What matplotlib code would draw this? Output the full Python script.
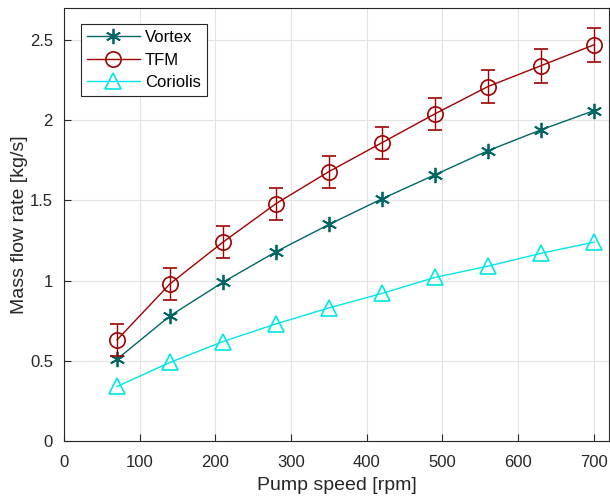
import matplotlib
matplotlib.use("Agg")
import matplotlib.pyplot as plt
from matplotlib.lines import Line2D

plt.rcParams['font.family'] = ['Liberation Sans', 'DejaVu Sans']

speed = [70, 140, 210, 280, 350, 420, 490, 560, 630, 700]
vortex = [0.51, 0.78, 0.99, 1.18, 1.35, 1.51, 1.66, 1.81, 1.94, 2.06]
tfm = [0.63, 0.98, 1.24, 1.48, 1.68, 1.86, 2.04, 2.21, 2.34, 2.47]
tfm_err = [0.10, 0.10, 0.10, 0.10, 0.10, 0.10, 0.10, 0.105, 0.105, 0.105]
coriolis = [0.34, 0.49, 0.62, 0.73, 0.83, 0.92, 1.02, 1.09, 1.17, 1.24]
series_labels = ['Vortex', 'TFM', 'Coriolis']

c_vortex = '#006666'
c_tfm = '#a00000'
c_cor = '#00e5e5'

fig = plt.figure(figsize=(6.10, 4.98), dpi=100)
ax = fig.add_axes([64/610, 57/498, 545/610, 433/498])

vortex_style = dict(color=c_vortex, marker=(6, 2, 0), markersize=11, markeredgewidth=1.3, lw=1)
tfm_style = dict(color=c_tfm, marker='o', markersize=11, markerfacecolor='none', markeredgewidth=1.2, lw=1)
cor_style = dict(color=c_cor, marker='^', markersize=11, markerfacecolor='none', markeredgewidth=1.2, lw=1)

ax.plot(speed, vortex, '-', **vortex_style)
ax.errorbar(speed, tfm, yerr=tfm_err, fmt='-', ecolor=c_tfm, elinewidth=1, capsize=5, **tfm_style)
ax.plot(speed, coriolis, '-', **cor_style)

ax.set_xlim(0, 720)
ax.set_ylim(0, 2.7)
ax.set_xticks(range(0, 701, 100))
ax.set_yticks([0, 0.5, 1, 1.5, 2, 2.5])
ax.set_yticklabels(['0', '0.5', '1', '1.5', '2', '2.5'])
ax.grid(True, color='#e3e3e3', lw=0.8)
ax.set_axisbelow(True)
ax.tick_params(direction='in', labelsize=12, colors='#262626', length=5, top=False, right=False)
ax.tick_params(axis='x', pad=10)
ax.tick_params(axis='y', pad=8)
for s in ax.spines.values():
    s.set_color('#262626')
    s.set_linewidth(0.8)
ax.set_xlabel('Pump speed [rpm]', fontsize=14, color='#262626', labelpad=5)
ax.set_ylabel('Mass flow rate [kg/s]', fontsize=14, color='#262626', labelpad=1)

handles = [Line2D([], [], **vortex_style), Line2D([], [], **tfm_style), Line2D([], [], **cor_style)]
leg = ax.legend(handles, series_labels, loc='upper left', bbox_to_anchor=(0.031, 0.962), fontsize=12,
                frameon=True, fancybox=False, edgecolor='#262626', framealpha=1, handlelength=3.2,
                borderpad=0.35, labelspacing=0.45, handletextpad=0.3, borderaxespad=0)
leg.get_frame().set_linewidth(0.8)

fig.savefig('out.png', dpi=100)
